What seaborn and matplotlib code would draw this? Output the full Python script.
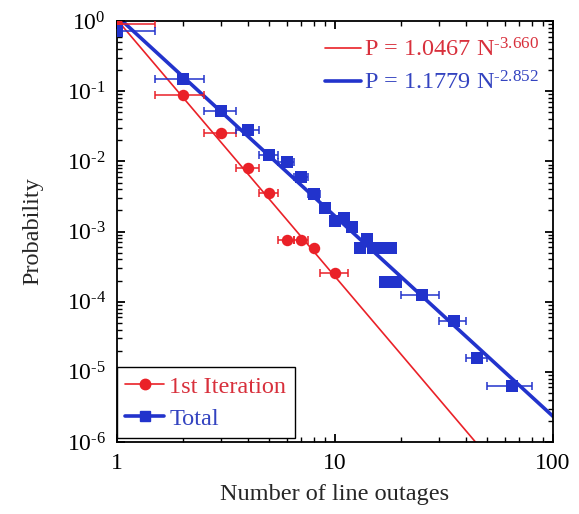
import numpy as np
import pandas as pd
import matplotlib
matplotlib.use("Agg")
import matplotlib.pyplot as plt
import seaborn as sns
from matplotlib.lines import Line2D
from matplotlib.ticker import LogLocator, FixedLocator, FuncFormatter, NullFormatter

# ---- data ----
first_x = [1, 2, 3, 4, 5, 6, 7, 8, 10]
first_y = [0.91, 0.088, 0.0254, 0.0081, 0.0035, 7.7e-4, 7.7e-4, 5.9e-4, 2.6e-4]
first_xerr = [0.5, 0.5, 0.5, 0.5, 0.5, 0.5, 0.5, 0, 1.5]

total_x = [1, 2, 3, 4, 5, 6, 7, 8, 9, 10, 11, 12, 13, 14, 15, 16, 17, 18, 19, 25, 35, 45, 65]
total_y = [0.72, 0.149, 0.052, 0.028, 0.0122, 0.0098, 0.006, 0.0034, 0.0022, 0.0014,
           0.00155, 0.00117, 5.9e-4, 7.8e-4, 5.9e-4, 5.9e-4, 1.9e-4, 5.9e-4, 1.9e-4,
           1.26e-4, 5.3e-5, 1.6e-5, 6.3e-6]
total_xerr = [0.5, 0.5, 0.5, 0.5, 0.5, 0.5, 0.5, 0.5, 0, 0, 0, 0, 0, 0, 0, 0, 0, 0, 0,
              5, 5, 5, 15]

fit_first = (1.0467, -3.660)
fit_total = (1.1779, -2.852)

x_ticks = [1, 10, 100]
y_ticks = [1e-6, 1e-5, 1e-4, 1e-3, 1e-2, 1e-1, 1]

series_labels = ["1st Iteration", "Total"]
HY = "\u2010"
fit_labels = [r"P = 1.0467 N$^{" + HY + "3.660}$", r"P = 1.1779 N$^{" + HY + "2.852}$"]

RED = "#ea2128"
BLUE = "#2233cc"
RED_TXT = "#d8303c"
BLUE_TXT = "#3343c0"

sns.set_theme(style="ticks")
plt.rcParams["font.family"] = ["Liberation Serif", "DejaVu Serif"]
plt.rcParams["mathtext.fontset"] = "custom"
plt.rcParams["mathtext.rm"] = "Liberation Serif"
plt.rcParams["mathtext.it"] = "Liberation Serif:italic"
plt.rcParams["mathtext.default"] = "regular"
plt.rcParams["axes.unicode_minus"] = False

fig = plt.figure(figsize=(5.79, 5.14), dpi=100)
ax = fig.add_axes([0.202, 0.140, 0.753, 0.819])

# fit lines
N = np.logspace(0, 2, 300)
fit_df = pd.DataFrame({
    "N": np.concatenate([N, N]),
    "P": np.concatenate([fit_first[0] * N ** fit_first[1], fit_total[0] * N ** fit_total[1]]),
    "fit": ["first"] * len(N) + ["total"] * len(N),
})
sns.lineplot(data=fit_df[fit_df.fit == "first"], x="N", y="P", color=RED, lw=1.2, ax=ax,
             legend=False, zorder=2)
sns.lineplot(data=fit_df[fit_df.fit == "total"], x="N", y="P", color=BLUE, lw=2.6, ax=ax,
             legend=False, zorder=2)

# error bars
ax.errorbar(first_x, first_y, xerr=first_xerr, fmt="none", ecolor=RED, elinewidth=1.1,
            capsize=3.2, capthick=1.1, zorder=3)
ax.errorbar(total_x, total_y, xerr=total_xerr, fmt="none", ecolor=BLUE, elinewidth=1.1,
            capsize=3.2, capthick=1.1, zorder=3)

# markers
df1 = pd.DataFrame({"x": first_x, "y": first_y})
df2 = pd.DataFrame({"x": total_x, "y": total_y})
sns.scatterplot(data=df1, x="x", y="y", marker="o", s=68, color=RED, edgecolor=RED,
                linewidth=0, ax=ax, zorder=4)
sns.scatterplot(data=df2, x="x", y="y", marker="s", s=70, color=BLUE, edgecolor=BLUE,
                linewidth=0, ax=ax, zorder=4)

ax.set_xscale("log")
ax.set_yscale("log")
ax.set_xlim(1, 100)
ax.set_ylim(1e-6, 1)


def yfmt(v, p):
    e = int(round(np.log10(v)))
    s = str(e).replace("-", HY)
    return r"$10^{" + s + "}$"


ax.xaxis.set_major_locator(FixedLocator(x_ticks))
ax.xaxis.set_minor_locator(LogLocator(base=10, subs=np.arange(2, 10), numticks=20))
ax.xaxis.set_major_formatter(FuncFormatter(lambda v, p: f"{v:g}"))
ax.xaxis.set_minor_formatter(NullFormatter())
ax.yaxis.set_major_locator(FixedLocator(y_ticks))
ax.yaxis.set_minor_locator(LogLocator(base=10, subs=np.arange(2, 10), numticks=20))
ax.yaxis.set_major_formatter(FuncFormatter(yfmt))
ax.yaxis.set_minor_formatter(NullFormatter())

ax.tick_params(which="both", direction="in", top=True, right=True, colors="black",
               labelsize=17)
ax.tick_params(which="major", length=6, width=1.3, pad=8)
ax.tick_params(which="minor", length=3.5, width=1.0)
for s in ax.spines.values():
    s.set_visible(True)
    s.set_linewidth(1.3)
    s.set_color("black")

ax.set_xlabel("Number of line outages", fontsize=17.5, labelpad=7)
ax.set_ylabel("Probability", fontsize=17.5, labelpad=17)

# legend: series
h1 = [Line2D([], [], color=RED, lw=1.2, marker="o", ms=7.5),
      Line2D([], [], color=BLUE, lw=2.6, marker="s", ms=7)]
leg1 = ax.legend(h1, series_labels, loc="lower left", fontsize=17.5, frameon=True,
                 fancybox=False, edgecolor="black", framealpha=1, handlelength=1.6,
                 handletextpad=0.2, borderpad=0.35, labelspacing=0.42,
                 borderaxespad=0.0, bbox_to_anchor=(0.0, 0.009))
leg1.get_frame().set_linewidth(1.0)
for t, c in zip(leg1.get_texts(), [RED_TXT, BLUE_TXT]):
    t.set_color(c)
ax.add_artist(leg1)

h2 = [Line2D([], [], color=RED, lw=1.2), Line2D([], [], color=BLUE, lw=2.6)]
leg2 = ax.legend(h2, fit_labels, loc="upper right", fontsize=17.5, frameon=False,
                 handlelength=1.45, handletextpad=0.12, labelspacing=0.4,
                 borderaxespad=0.3, bbox_to_anchor=(1.006, 1.0))
for t, c in zip(leg2.get_texts(), [RED_TXT, BLUE_TXT]):
    t.set_color(c)

fig.savefig("out.png", dpi=100)
